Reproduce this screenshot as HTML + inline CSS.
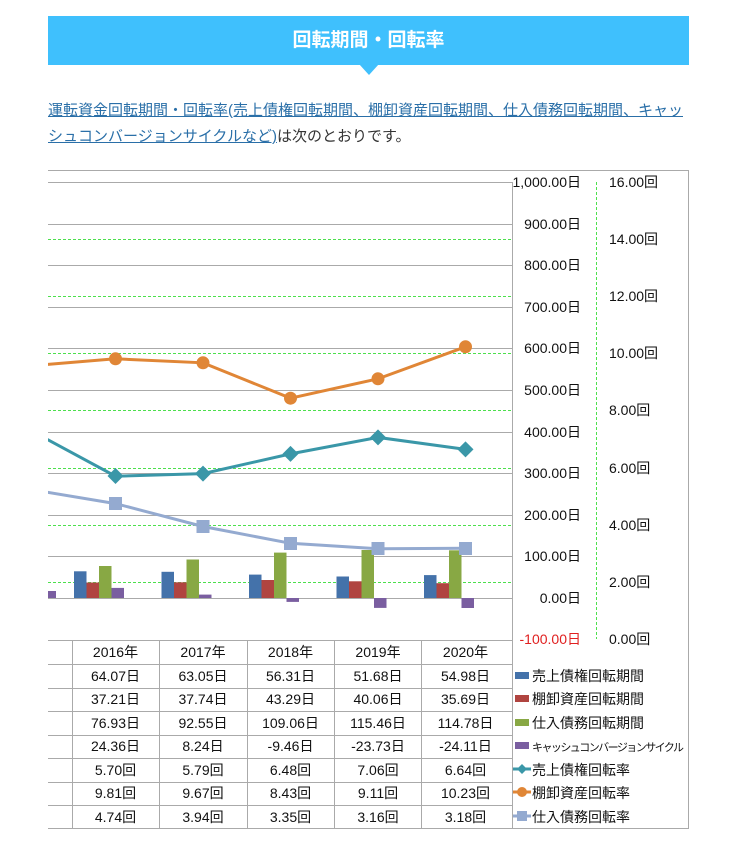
<!DOCTYPE html>
<html><head><meta charset="utf-8"><style>
body{margin:0;background:#fff;width:746px;height:841px;overflow:hidden;font-family:"Liberation Sans","Noto Sans CJK JP",sans-serif}
.ban{position:absolute;left:48px;top:16px;width:641px;height:49px;background:#3fc0fd;color:#fff;font-weight:bold;font-size:19px;text-align:center;line-height:49px}
.tri{position:absolute;left:359px;top:64px;width:0;height:0;border-left:10px solid transparent;border-right:10px solid transparent;border-top:11px solid #3fc0fd}
.p{position:absolute;left:48px;top:98px;width:645px;font-size:15px;line-height:26px;color:#333}
.p a{color:#2a6fa8;text-decoration:underline}
svg{position:absolute;left:0;top:0}
</style></head><body>
<div class="ban">回転期間・回転率</div><div class="tri"></div>
<div class="p"><a>運転資金回転期間・回転率(売上債権回転期間、棚卸資産回転期間、仕入債務回転期間、キャッシュコンバージョンサイクルなど)</a>は次のとおりです。</div>
<svg width="746" height="841" font-family="Liberation Sans,Noto Sans CJK JP,sans-serif">
<defs><clipPath id="c"><rect x="48" y="170" width="464" height="470"/></clipPath></defs>
<path d="M48 170.5H688.5V828.5H48" fill="none" stroke="#aaa"/>
<g stroke="#aaa" stroke-width="1">
<line x1="48" y1="182.5" x2="512" y2="182.5"/><line x1="48" y1="224.5" x2="512" y2="224.5"/><line x1="48" y1="265.5" x2="512" y2="265.5"/><line x1="48" y1="307.5" x2="512" y2="307.5"/><line x1="48" y1="348.5" x2="512" y2="348.5"/><line x1="48" y1="390.5" x2="512" y2="390.5"/><line x1="48" y1="432.5" x2="512" y2="432.5"/><line x1="48" y1="473.5" x2="512" y2="473.5"/><line x1="48" y1="515.5" x2="512" y2="515.5"/><line x1="48" y1="556.5" x2="512" y2="556.5"/><line x1="48" y1="598.5" x2="512" y2="598.5"/>
<line x1="512.5" y1="182" x2="512.5" y2="829"/>
</g>
<g stroke="#4de04d" stroke-dasharray="3,2">
<line x1="48" y1="239.5" x2="512" y2="239.5"/><line x1="48" y1="296.5" x2="512" y2="296.5"/><line x1="48" y1="353.5" x2="512" y2="353.5"/><line x1="48" y1="410.5" x2="512" y2="410.5"/><line x1="48" y1="468.5" x2="512" y2="468.5"/><line x1="48" y1="525.5" x2="512" y2="525.5"/><line x1="48" y1="582.5" x2="512" y2="582.5"/>
<line x1="596.5" y1="182" x2="596.5" y2="639"/>
</g>
<g clip-path="url(#c)">
<rect x="40" y="591" width="16" height="7" fill="#7a5ea0"/>
<rect x="74" y="571.3" width="12.5" height="26.7" fill="#4472aa"/><rect x="86.5" y="582.5" width="12.5" height="15.5" fill="#b04440"/><rect x="99" y="566" width="12.5" height="32" fill="#88a844"/><rect x="111.5" y="587.9" width="12.5" height="10.1" fill="#7a5ea0"/>
<rect x="161.5" y="571.8" width="12.5" height="26.2" fill="#4472aa"/><rect x="174" y="582.3" width="12.5" height="15.7" fill="#b04440"/><rect x="186.5" y="559.5" width="12.5" height="38.5" fill="#88a844"/><rect x="199" y="594.6" width="12.5" height="3.4" fill="#7a5ea0"/>
<rect x="249" y="574.6" width="12.5" height="23.4" fill="#4472aa"/><rect x="261.5" y="580" width="12.5" height="18" fill="#b04440"/><rect x="274" y="552.6" width="12.5" height="45.4" fill="#88a844"/><rect x="286.5" y="598" width="12.5" height="3.9" fill="#7a5ea0"/>
<rect x="336.5" y="576.5" width="12.5" height="21.5" fill="#4472aa"/><rect x="349" y="581.3" width="12.5" height="16.7" fill="#b04440"/><rect x="361.5" y="550" width="12.5" height="48" fill="#88a844"/><rect x="374" y="598" width="12.5" height="9.9" fill="#7a5ea0"/>
<rect x="424" y="575.1" width="12.5" height="22.9" fill="#4472aa"/><rect x="436.5" y="583.2" width="12.5" height="14.8" fill="#b04440"/><rect x="449" y="550.3" width="12.5" height="47.7" fill="#88a844"/><rect x="461.5" y="598" width="12.5" height="10" fill="#7a5ea0"/>
<polyline fill="none" stroke="#3a97a8" stroke-width="3" points="28,429 115.5,476.2 203,473.6 290.5,453.9 378,437.4 465.5,449.4"/>
<polyline fill="none" stroke="#e08636" stroke-width="3" points="28,366 115.5,358.8 203,362.8 290.5,398.2 378,378.8 465.5,346.8"/>
<polyline fill="none" stroke="#94aad0" stroke-width="3" points="28,489 115.5,503.6 203,526.5 290.5,543.3 378,548.8 465.5,548.2"/>
<g fill="#3a97a8"><path d="M115.5 468l8 8-8 8-8-8z"/><path d="M203 465.6l8 8-8 8-8-8z"/><path d="M290.5 445.9l8 8-8 8-8-8z"/><path d="M378 429.4l8 8-8 8-8-8z"/><path d="M465.5 441.4l8 8-8 8-8-8z"/></g>
<g fill="#e08636"><circle cx="115.5" cy="358.8" r="6.5"/><circle cx="203" cy="362.8" r="6.5"/><circle cx="290.5" cy="398.2" r="6.5"/><circle cx="378" cy="378.8" r="6.5"/><circle cx="465.5" cy="346.8" r="6.5"/></g>
<g fill="#94aad0"><rect x="109" y="497" width="13" height="13"/><rect x="196.5" y="520" width="13" height="13"/><rect x="284" y="537" width="13" height="13"/><rect x="371.5" y="542" width="13" height="13"/><rect x="459" y="542" width="13" height="13"/></g>
</g>
<g font-size="14" fill="#111" text-anchor="end">
<text x="581" y="187">1,000.00日</text><text x="581" y="229">900.00日</text><text x="581" y="270">800.00日</text><text x="581" y="312">700.00日</text><text x="581" y="353">600.00日</text><text x="581" y="395">500.00日</text><text x="581" y="437">400.00日</text><text x="581" y="478">300.00日</text><text x="581" y="520">200.00日</text><text x="581" y="561">100.00日</text><text x="581" y="603">0.00日</text><text x="581" y="644" fill="#e02020">-100.00日</text>
</g>
<g font-size="14" fill="#111">
<text x="609" y="187">16.00回</text><text x="609" y="244">14.00回</text><text x="609" y="301">12.00回</text><text x="609" y="358">10.00回</text><text x="609" y="415">8.00回</text><text x="609" y="473">6.00回</text><text x="609" y="530">4.00回</text><text x="609" y="587">2.00回</text><text x="609" y="644">0.00回</text>
</g>
<g stroke="#aaa">
<line x1="48" y1="640.5" x2="512" y2="640.5"/><line x1="48" y1="664.5" x2="512" y2="664.5"/><line x1="48" y1="688.5" x2="512" y2="688.5"/><line x1="48" y1="711.5" x2="512" y2="711.5"/><line x1="48" y1="735.5" x2="512" y2="735.5"/><line x1="48" y1="758.5" x2="512" y2="758.5"/><line x1="48" y1="782.5" x2="512" y2="782.5"/><line x1="48" y1="805.5" x2="512" y2="805.5"/>
<line x1="72.5" y1="640" x2="72.5" y2="829"/><line x1="159.5" y1="640" x2="159.5" y2="829"/><line x1="247.5" y1="640" x2="247.5" y2="829"/><line x1="334.5" y1="640" x2="334.5" y2="829"/><line x1="421.5" y1="640" x2="421.5" y2="829"/>
</g>
<g font-size="14" fill="#111" text-anchor="middle">
<text x="115.5" y="657">2016年</text><text x="203" y="657">2017年</text><text x="290.5" y="657">2018年</text><text x="378" y="657">2019年</text><text x="465.5" y="657">2020年</text>
<text x="115.5" y="681">64.07日</text><text x="203" y="681">63.05日</text><text x="290.5" y="681">56.31日</text><text x="378" y="681">51.68日</text><text x="465.5" y="681">54.98日</text>
<text x="115.5" y="704">37.21日</text><text x="203" y="704">37.74日</text><text x="290.5" y="704">43.29日</text><text x="378" y="704">40.06日</text><text x="465.5" y="704">35.69日</text>
<text x="115.5" y="728">76.93日</text><text x="203" y="728">92.55日</text><text x="290.5" y="728">109.06日</text><text x="378" y="728">115.46日</text><text x="465.5" y="728">114.78日</text>
<text x="115.5" y="751">24.36日</text><text x="203" y="751">8.24日</text><text x="290.5" y="751">-9.46日</text><text x="378" y="751">-23.73日</text><text x="465.5" y="751">-24.11日</text>
<text x="115.5" y="775">5.70回</text><text x="203" y="775">5.79回</text><text x="290.5" y="775">6.48回</text><text x="378" y="775">7.06回</text><text x="465.5" y="775">6.64回</text>
<text x="115.5" y="798">9.81回</text><text x="203" y="798">9.67回</text><text x="290.5" y="798">8.43回</text><text x="378" y="798">9.11回</text><text x="465.5" y="798">10.23回</text>
<text x="115.5" y="822">4.74回</text><text x="203" y="822">3.94回</text><text x="290.5" y="822">3.35回</text><text x="378" y="822">3.16回</text><text x="465.5" y="822">3.18回</text>
</g>
<rect x="515" y="672" width="14" height="7" fill="#4472aa"/><rect x="515" y="695" width="14" height="7" fill="#b04440"/><rect x="515" y="719" width="14" height="7" fill="#88a844"/><rect x="515" y="742" width="14" height="7" fill="#7a5ea0"/>
<line x1="513" y1="769" x2="531" y2="769" stroke="#3a97a8" stroke-width="3"/><path d="M522 764l5 5-5 5-5-5z" fill="#3a97a8"/>
<line x1="513" y1="792" x2="531" y2="792" stroke="#e08636" stroke-width="3"/><circle cx="522" cy="792" r="5" fill="#e08636"/>
<line x1="513" y1="816" x2="531" y2="816" stroke="#94aad0" stroke-width="3"/><rect x="517" y="811" width="10" height="10" fill="#94aad0"/>
<g font-size="14" fill="#111">
<text x="532" y="681">売上債権回転期間</text><text x="532" y="704">棚卸資産回転期間</text><text x="532" y="728">仕入債務回転期間</text><text x="532" y="751" font-size="11" textLength="152">キャッシュコンバージョンサイクル</text><text x="532" y="775">売上債権回転率</text><text x="532" y="798">棚卸資産回転率</text><text x="532" y="822">仕入債務回転率</text>
</g>
</svg>
</body></html>
